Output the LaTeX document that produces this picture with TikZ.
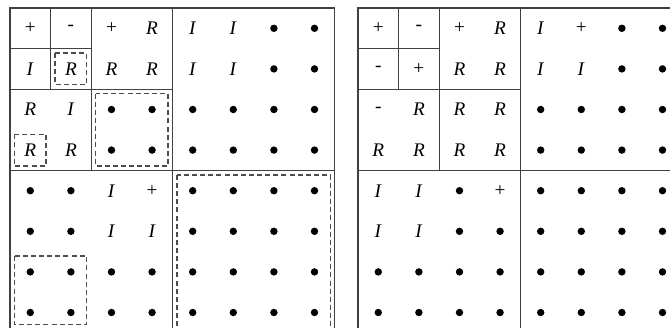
\documentclass[tikz,border=0pt]{standalone}
\usepackage{fontspec}
\setmainfont{Liberation Serif}
\newcommand{\cellP}{+}
\newcommand{\cellM}{-}
\newcommand{\cellR}{\textit{R}}
\newcommand{\cellI}{\textit{I}}
\newcommand{\cellD}{\tikz\fill (0,0) circle (2.6pt);}

\begin{document}
\begin{tikzpicture}[x=1cm,y=1cm]
\tikzset{
  cell/.style={rectangle,minimum size=1cm,inner sep=0pt,outer sep=0pt,font=\fontsize{13.5}{15}\selectfont},
  gridline/.style={draw=black!75,line width=0.8pt},
  dashbox/.style={draw=black!70,line width=0.9pt,dash pattern=on 3.5pt off 2.2pt}
}
\useasboundingbox (-0.246,0.197) rectangle (16.256,-7.857);
\clip (-0.246,0.197) rectangle (16.256,-7.857);
% left grid
\foreach \cells [count=\ri] in {{P,M,P,R,I,I,D,D},{I,R,R,R,I,I,D,D},{R,I,D,D,D,D,D,D},{R,R,D,D,D,D,D,D},
    {D,D,I,P,D,D,D,D},{D,D,I,I,D,D,D,D},{D,D,D,D,D,D,D,D},{D,D,D,D,D,D,D,D}}
  \foreach \s [count=\ci] in \cells
    \node[cell] (lt-\ri-\ci) at (\ci-0.5,0.5-\ri) {\csname cell\s\endcsname};
% right grid
\foreach \cells [count=\ri] in {{P,M,P,R,I,P,D,D},{M,P,R,R,I,I,D,D},{M,R,R,R,D,D,D,D},{R,R,R,R,D,D,D,D},
    {I,I,D,P,D,D,D,D},{I,I,D,D,D,D,D,D},{D,D,D,D,D,D,D,D},{D,D,D,D,D,D,D,D}}
  \foreach \s [count=\ci] in \cells
    \node[cell] (rt-\ri-\ci) at (8.571+\ci-0.5,0.5-\ri) {\csname cell\s\endcsname};
% block borders
\foreach \g in {lt,rt} {
  \draw[gridline] (\g-1-1.north west) rectangle (\g-8-8.south east);
  \draw[gridline] (\g-1-4.north east) -- (\g-8-4.south east);
  \draw[gridline] (\g-4-1.south west) -- (\g-4-8.south east);
  \draw[gridline] (\g-1-2.north east) -- (\g-4-2.south east);
  \draw[gridline] (\g-2-1.south west) -- (\g-2-4.south east);
  \draw[gridline] (\g-1-1.north east) -- (\g-2-1.south east);
  \draw[gridline] (\g-1-1.south west) -- (\g-1-2.south east);
}
% dashed boxes
\draw[dashbox] ([shift={(0.11,-0.11)}]lt-2-2.north west) rectangle ([shift={(-0.11,0.11)}]lt-2-2.south east);
\draw[dashbox] ([shift={(0.11,-0.11)}]lt-3-3.north west) rectangle ([shift={(-0.11,0.11)}]lt-4-4.south east);
\draw[dashbox] ([shift={(0.11,-0.11)}]lt-4-1.north west) rectangle ([shift={(-0.11,0.11)}]lt-4-1.south east);
\draw[dashbox] ([shift={(0.11,-0.11)}]lt-7-1.north west) rectangle ([shift={(-0.11,0.2)}]lt-8-2.south east);
\draw[dashbox] ([shift={(0.11,-0.11)}]lt-5-5.north west) rectangle ([shift={(-0.11,0.11)}]lt-8-8.south east);
\end{tikzpicture}
\end{document}
